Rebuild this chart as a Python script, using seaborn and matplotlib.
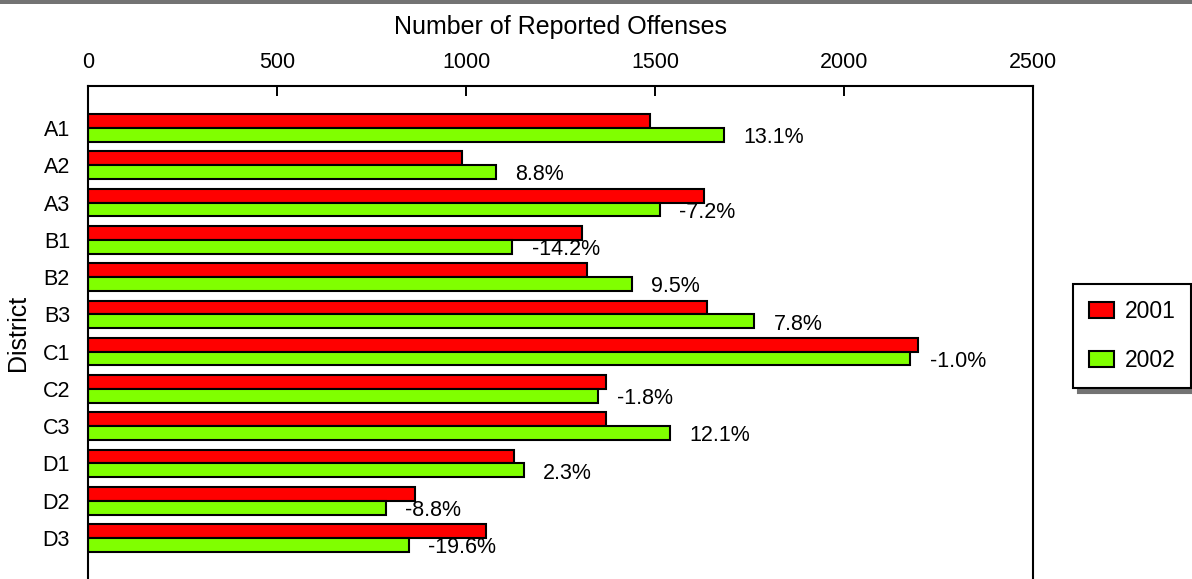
import matplotlib
matplotlib.use('Agg')
import matplotlib.pyplot as plt
import matplotlib.patches as mpatches
import pandas as pd
import seaborn as sns

# datos
districts = ['A1', 'A2', 'A3', 'B1', 'B2', 'B3', 'C1', 'C2', 'C3', 'D1', 'D2', 'D3']
offenses_2001 = [1487, 989, 1630, 1307, 1320, 1638, 2196, 1370, 1370, 1127, 864, 1053]
offenses_2002 = [1683, 1079, 1513, 1122, 1439, 1762, 2175, 1349, 1540, 1153, 788, 849]
change_labels = ['13.1%', '8.8%', '-7.2%', '-14.2%', '9.5%', '7.8%',
                 '-1.0%', '-1.8%', '12.1%', '2.3%', '-8.8%', '-19.6%']
years = ['2001', '2002']
colors = {'2001': '#ff0000', '2002': '#80ff00'}
x_ticks = [0, 500, 1000, 1500, 2000, 2500]

df = pd.DataFrame({
    'District': districts * 2,
    'Offenses': offenses_2001 + offenses_2002,
    'Year': [years[0]] * len(districts) + [years[1]] * len(districts),
})

sns.set_style('white')
plt.rcParams['font.family'] = ['Liberation Sans', 'DejaVu Sans']
plt.rcParams['text.color'] = 'black'
plt.rcParams['axes.labelcolor'] = 'black'
plt.rcParams['xtick.color'] = 'black'
plt.rcParams['ytick.color'] = 'black'

fig = plt.figure(figsize=(11.92, 5.79), dpi=100)
ax = fig.add_axes([88 / 1192, -1 / 579, 945 / 1192, 494 / 579])

sns.barplot(data=df, y='District', x='Offenses', hue='Year', hue_order=years,
            order=districts, palette=colors, saturation=1, width=0.74, edgecolor='black',
            linewidth=1.5, orient='h', legend=False, ax=ax)

ax.set_xlim(0, 2500)
ax.set_ylim(len(districts) - 1 + 1.127, -1.127)
ax.set_xticks(x_ticks)
ax.xaxis.tick_top()
ax.xaxis.set_label_position('top')
ax.tick_params(axis='x', direction='in', length=7, width=1.4, pad=9, labelsize=15.5, colors='black')
ax.tick_params(axis='y', length=0, pad=13, labelsize=15.5, colors='black')
ax.set_xlabel('Number of Reported Offenses', fontsize=18, labelpad=13)
ax.set_ylabel('District', fontsize=18)
ax.yaxis.set_label_coords(-0.061, 0.5)

for side in ['top', 'left', 'right']:
    ax.spines[side].set_visible(True)
    ax.spines[side].set_color('black')
    ax.spines[side].set_linewidth(1.5)
ax.spines['bottom'].set_visible(False)

# etiquetas de variación junto a las barras de 2002
for bar, txt in zip(ax.containers[1], change_labels):
    ax.annotate(txt, xy=(bar.get_width(), bar.get_y() + bar.get_height() / 2),
                xytext=(14, -2), textcoords='offset points',
                ha='left', va='center', fontsize=15.5)

handles = [mpatches.Patch(facecolor=colors[y], edgecolor='black', linewidth=1.5, label=y) for y in years]
leg = ax.legend(handles=handles, loc='upper left',
                bbox_to_anchor=(1073 / 1192, 1 - 284 / 579), bbox_transform=fig.transFigure,
                borderaxespad=0, fontsize=16.5, frameon=True, fancybox=False, borderpad=0.7,
                handlelength=1.1, handleheight=0.7, handletextpad=0.45, labelspacing=1.12,
                shadow={'ox': 3.6, 'oy': -3.6, 'color': '#737373', 'alpha': 1})
leg.get_frame().set_edgecolor('black')
leg.get_frame().set_linewidth(1.5)

# barra gris en la parte superior
fig.patches.append(mpatches.Rectangle((0, 1 - 3.5 / 579), 1, 3.5 / 579, transform=fig.transFigure,
                                      facecolor='#737373', edgecolor='none'))

fig.savefig('out.png', dpi=100)
